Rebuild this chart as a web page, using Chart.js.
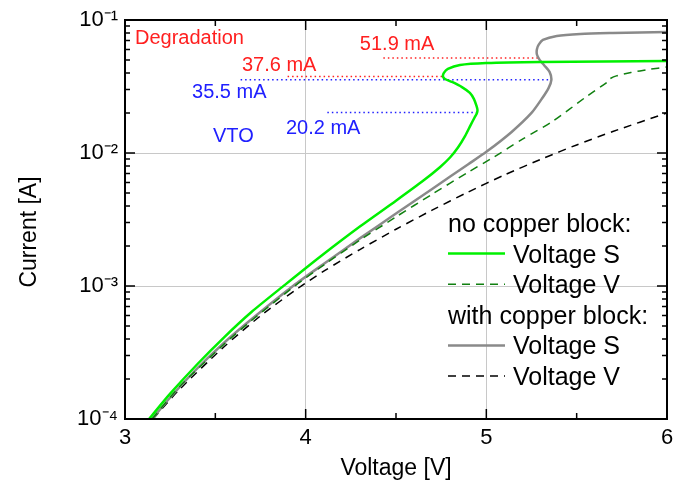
<!DOCTYPE html>
<html><head><meta charset="utf-8">
<script src="https://cdn.jsdelivr.net/npm/chart.js@4.4.1/dist/chart.umd.min.js"></script>
<style>html,body{margin:0;padding:0;background:#fff}</style>
</head><body>
<canvas id="c" width="675" height="496"></canvas>
<script>
const FONT = "'Liberation Sans', Arial, Helvetica, sans-serif";

// ---- data (Voltage [V], Current [A]) ----
const noCopperS_V = [3.133, 3.25, 3.4, 3.55, 3.7, 3.885, 4.08, 4.3, 4.5, 4.65, 4.743, 4.799, 4.843, 4.882, 4.913, 4.935, 4.947, 4.951, 4.946, 4.931, 4.909, 4.865, 4.81, 4.771, 4.76, 4.765, 4.787, 4.854, 5.0, 5.3, 6.0];
const noCopperS_I = [1.0e-4, 1.55e-4, 2.58e-4, 4.13e-4, 6.37e-4, 1.02e-3, 1.66e-3, 2.80e-3, 4.38e-3, 6.18e-3, 7.82e-3, 9.25e-3, 1.10e-2, 1.34e-2, 1.62e-2, 1.85e-2, 1.98e-2, 2.1e-2, 2.25e-2, 2.55e-2, 2.83e-2, 3.13e-2, 3.42e-2, 3.60e-2, 3.76e-2, 4.0e-2, 4.29e-2, 4.59e-2, 4.75e-2, 4.84e-2, 4.92e-2];

const noCopperV_V = [3.15, 3.3, 3.55, 3.7, 3.94, 4.107, 4.3, 4.5, 4.7, 4.9, 5.04, 5.2, 5.37, 5.55, 5.67, 5.68, 5.72, 5.8, 5.9, 6.0];
const noCopperV_I = [1.0e-4, 1.74e-4, 3.67e-4, 5.50e-4, 1.0e-3, 1.46e-3, 2.21e-3, 3.31e-3, 4.90e-3, 7.18e-3, 9.29e-3, 1.27e-2, 1.74e-2, 2.63e-2, 3.42e-2, 3.59e-2, 3.80e-2, 4.03e-2, 4.25e-2, 4.44e-2];

const copperS_V = [3.15, 3.25, 3.4, 3.55, 3.7, 3.93, 4.107, 4.3, 4.5, 4.7, 4.9, 5.0, 5.14, 5.25, 5.31, 5.345, 5.36, 5.35, 5.32, 5.295, 5.28, 5.28, 5.29, 5.313, 5.39, 5.52, 5.70, 6.0];
const copperS_I = [1.0e-4, 1.45e-4, 2.40e-4, 3.76e-4, 5.62e-4, 1.0e-3, 1.49e-3, 2.28e-3, 3.51e-3, 5.37e-3, 8.24e-3, 1.02e-2, 1.44e-2, 2.0e-2, 2.59e-2, 3.09e-2, 3.55e-2, 4.07e-2, 4.57e-2, 5.01e-2, 5.50e-2, 6.03e-2, 6.53e-2, 7.08e-2, 7.59e-2, 7.85e-2, 7.98e-2, 8.13e-2];

const copperV_V = [3.155, 3.3, 3.55, 3.75, 3.96, 4.107, 4.3, 4.5, 4.7, 4.9, 5.1, 5.32, 5.5, 5.7, 6.0];
const copperV_I = [1.0e-4, 1.66e-4, 3.51e-4, 5.96e-4, 9.66e-4, 1.31e-3, 1.88e-3, 2.67e-3, 3.72e-3, 5.09e-3, 6.84e-3, 9.18e-3, 1.15e-2, 1.45e-2, 2.0e-2];

// marked current levels (dotted guide lines)
const markLabels = ['51.9 mA', '37.6 mA', '35.5 mA', '20.2 mA'];
const markI      = [0.0519, 0.0376, 0.0355, 0.0202];
const markFromV  = [4.43, 3.90, 3.64, 4.12];
const markToV    = [5.29, 4.76, 5.36, 4.95];
const markColors = ['#ff2020', '#ff2020', '#2020ff', '#2020ff'];

const xTicks = [3, 4, 5, 6];
const yTicks = [1e-4, 1e-3, 1e-2, 1e-1];

// ---- helpers ----
const pts = (xs, ys) => xs.map((x, i) => ({x: x, y: ys[i]}));
const SUP = {'-':'\u207B','0':'\u2070','1':'\u00B9','2':'\u00B2','3':'\u00B3','4':'\u2074','5':'\u2075','6':'\u2076','7':'\u2077','8':'\u2078','9':'\u2079'};
const isDecade = v => Math.abs(Math.log10(v) - Math.round(Math.log10(v))) < 1e-6;

const datasets = [
  {label: 'no copper block: Voltage S', data: pts(noCopperS_V, noCopperS_I), borderColor: '#00f000', borderWidth: 2.5, order: 0},
  {label: 'no copper block: Voltage V', data: pts(noCopperV_V, noCopperV_I), borderColor: '#108010', borderWidth: 1.5, borderDash: [8, 6], order: 1},
  {label: 'with copper block: Voltage S', data: pts(copperS_V, copperS_I), borderColor: '#8a8a8a', borderWidth: 2.5, order: 2},
  {label: 'with copper block: Voltage V', data: pts(copperV_V, copperV_I), borderColor: '#000000', borderWidth: 1.5, borderDash: [8, 6], order: 3}
].map(d => Object.assign({showLine: true, pointRadius: 0, tension: 0.25, fill: false}, d));

markI.forEach((v, i) => {
  datasets.push({label: markLabels[i], data: [{x: markFromV[i], y: v}, {x: markToV[i], y: v}],
    showLine: true, pointRadius: 0, borderColor: markColors[i], borderWidth: 1.5, borderDash: [1.5, 3], order: 10});
});

// text annotations (data coords of left/baseline)
const notes = [
  {t: 'Degradation', v: 3.055, i: 0.0660, c: '#ff2020'},
  {t: markLabels[0], v: 4.30, i: 0.0595, c: '#ff2020'},
  {t: markLabels[1], v: 3.6475, i: 0.0414, c: '#ff2020'},
  {t: markLabels[2], v: 3.371, i: 0.0259, c: '#2020ff'},
  {t: 'VTO', v: 3.487, i: 0.0121, c: '#2020ff'},
  {t: markLabels[3], v: 3.891, i: 0.0139, c: '#2020ff'}
];

const legendItems = [
  {head: 'no copper block:'},
  {ds: 0, text: 'Voltage S'},
  {ds: 1, text: 'Voltage V'},
  {head: 'with copper block:'},
  {ds: 2, text: 'Voltage S'},
  {ds: 3, text: 'Voltage V'}
];

const decor = {
  id: 'decor',
  afterDraw(chart) {
    const {ctx, chartArea: a, scales: {x, y}} = chart;
    ctx.save();
    // inward ticks
    ctx.strokeStyle = '#000'; ctx.lineWidth = 1.5;
    const tick = (px, len, horiz) => {
      ctx.beginPath();
      if (horiz) {
        ctx.moveTo(px, a.bottom); ctx.lineTo(px, a.bottom - len);
        ctx.moveTo(px, a.top); ctx.lineTo(px, a.top + len);
      } else {
        ctx.moveTo(a.left, px); ctx.lineTo(a.left + len, px);
        ctx.moveTo(a.right, px); ctx.lineTo(a.right - len, px);
      }
      ctx.stroke();
    };
    for (let v = 3; v <= 6.001; v += 0.5) tick(x.getPixelForValue(v), Number.isInteger(v) ? 10 : 6, true);
    for (let e = -4; e <= -1; e++) {
      for (let m = 1; m <= 9; m++) {
        const val = m * Math.pow(10, e);
        if (val > 0.1 + 1e-12) break;
        tick(y.getPixelForValue(val), m === 1 ? 10 : 5, false);
      }
    }
    // frame
    ctx.lineWidth = 2;
    ctx.strokeRect(a.left, a.top, a.right - a.left, a.bottom - a.top);

    // y axis title
    ctx.save();
    ctx.translate(30, 232);
    ctx.rotate(-Math.PI / 2);
    ctx.font = '23px ' + FONT;
    ctx.fillStyle = '#000'; ctx.textAlign = 'center'; ctx.textBaseline = 'middle';
    ctx.fillText('Current [A]', 0, 0);
    ctx.restore();

    // annotations
    ctx.font = '20px ' + FONT;
    ctx.textAlign = 'left'; ctx.textBaseline = 'alphabetic';
    notes.forEach(n => {
      ctx.fillStyle = n.c;
      ctx.fillText(n.t, x.getPixelForValue(n.v), y.getPixelForValue(n.i));
    });

    // legend
    const lx = 448, tx = 513, base0 = 232, step = 30.6;
    ctx.font = '25px ' + FONT;
    legendItems.forEach((it, k) => {
      const b = base0 + k * step;
      ctx.fillStyle = '#000';
      if (it.head) { ctx.fillText(it.head, lx, b); return; }
      const d = chart.data.datasets[it.ds];
      ctx.beginPath();
      ctx.strokeStyle = d.borderColor; ctx.lineWidth = d.borderWidth;
      ctx.setLineDash(d.borderDash || []);
      ctx.moveTo(lx, b - 9); ctx.lineTo(lx + 57, b - 9); ctx.stroke();
      ctx.setLineDash([]);
      ctx.fillText(it.text, tx, b);
    });
    ctx.restore();
  }
};

new Chart(document.getElementById('c'), {
  type: 'scatter',
  data: {datasets},
  plugins: [decor],
  options: {
    responsive: false,
    animation: false,
    devicePixelRatio: 1,
    layout: {padding: {left: 0, right: 8, top: 20, bottom: 0}},
    plugins: {legend: {display: false}, tooltip: {enabled: false}},
    scales: {
      x: {
        type: 'linear', min: 3, max: 6,
        afterBuildTicks: s => { s.ticks = xTicks.map(v => ({value: v})); },
        afterFit: s => { s.height = 77; s.paddingLeft = 0; s.paddingRight = 0; },
        ticks: {color: '#000', font: {family: FONT, size: 22}, padding: 6, callback: v => String(v)},
        grid: {drawTicks: false, lineWidth: 1, color: c => (c.tick && (c.tick.value === 4 || c.tick.value === 5)) ? '#c8c8c8' : 'rgba(0,0,0,0)'},
        border: {display: false},
        title: {display: true, text: 'Voltage [V]', color: '#000', font: {family: FONT, size: 23}, padding: {top: 0, bottom: 14}}
      },
      y: {
        type: 'logarithmic', min: 1e-4, max: 1e-1,
        afterBuildTicks: s => { s.ticks = yTicks.map(v => ({value: v})); },
        afterFit: s => { s.width = 125; s.paddingTop = 0; s.paddingBottom = 0; },
        ticks: {color: '#000', font: {family: FONT, size: 22}, padding: 7,
          callback: v => { if (!isDecade(v)) return ''; const e = String(Math.round(Math.log10(v))); return '10' + e.split('').map(ch => SUP[ch]).join(''); }},
        grid: {drawTicks: false, lineWidth: 1, color: c => (c.tick && isDecade(c.tick.value) && Math.round(Math.log10(c.tick.value)) > -4 && Math.round(Math.log10(c.tick.value)) < -1) ? '#c8c8c8' : 'rgba(0,0,0,0)'},
        border: {display: false},
        title: {display: false, text: 'Current [A]'}
      }
    }
  }
});
</script>
</body></html>
